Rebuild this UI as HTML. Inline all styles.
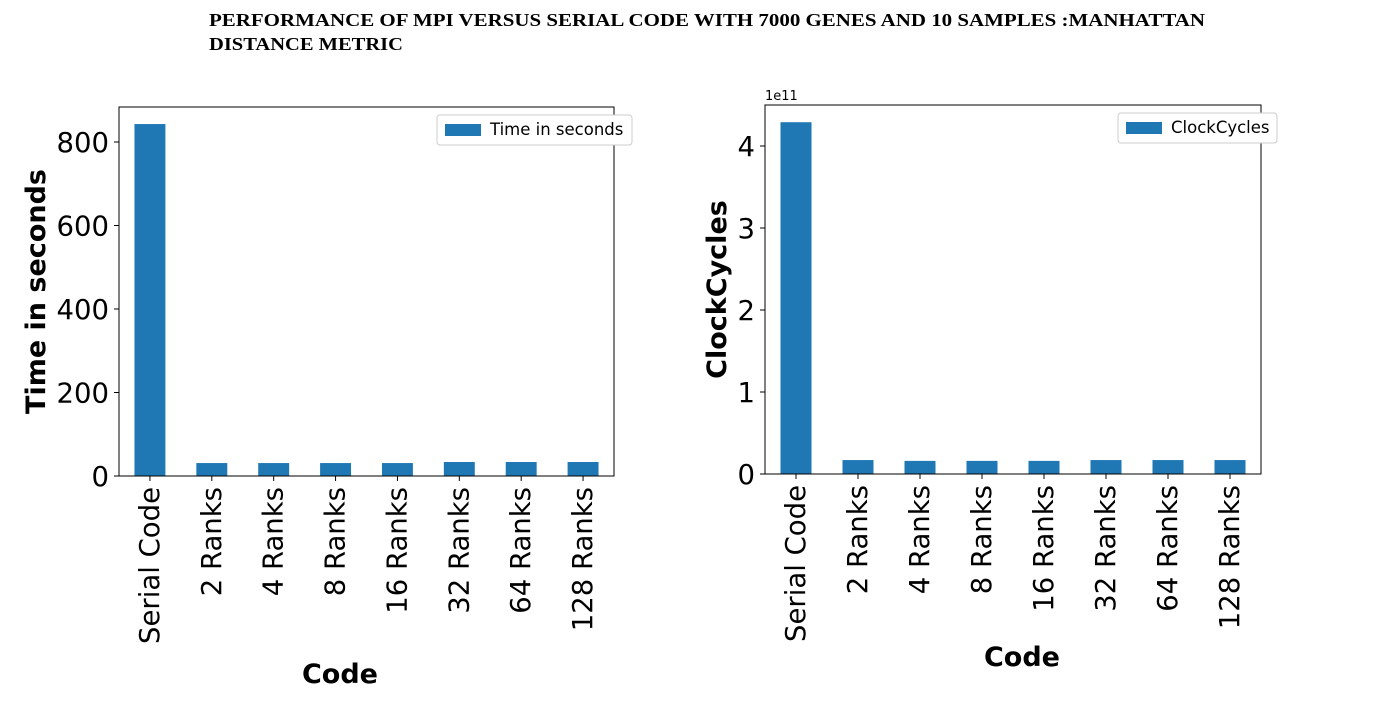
<!DOCTYPE html>
<html><head><meta charset="utf-8"><style>
body{margin:0;background:#fff;width:1378px;height:710px;overflow:hidden}
svg text{font-family:"DejaVu Sans","Liberation Sans",sans-serif}
</style></head><body>
<svg id="s" width="1378" height="710">
<text x="209" y="26" font-weight="bold" font-size="18" textLength="996" lengthAdjust="spacingAndGlyphs" style="font-family:'Liberation Serif',serif">PERFORMANCE OF MPI VERSUS SERIAL CODE WITH 7000 GENES AND 10 SAMPLES :MANHATTAN</text>
<text x="209" y="50" font-weight="bold" font-size="18" textLength="194" lengthAdjust="spacingAndGlyphs" style="font-family:'Liberation Serif',serif">DISTANCE METRIC</text>
</svg>
<script>
const categories=["Serial Code","2 Ranks","4 Ranks","8 Ranks","16 Ranks","32 Ranks","64 Ranks","128 Ranks"];
const timeValues=[843,31,31,31,31,33.5,33.5,33.5];
const clockValues=[4.29,0.17,0.16,0.16,0.16,0.17,0.17,0.17];
const timeTicks=[0,200,400,600,800];
const clockTicks=[0,1,2,3,4];
const svg=document.getElementById('s');
const NS='http://www.w3.org/2000/svg';
function mk(t,a,p){const e=document.createElementNS(NS,t);for(const k in a)e.setAttribute(k,a[k]);(p||svg).appendChild(e);return e;}
function panel(o){
  const g=mk('g',{});
  
  
  const w=o.x1-o.x0, step=w/categories.length;
  const xs=i=>o.x0+step*(i+0.5);
  const ys=v=>o.y1-v*o.ppu;
  o.vals.forEach((v,i)=>{
    const r=mk('rect',{x:xs(i)-step/4,y:ys(v),width:step/2,height:o.y1-ys(v),fill:'#1f77b4'},g);
    
    
    mk('line',{x1:xs(i),x2:xs(i),y1:o.y1,y2:o.y1+5,stroke:'#000','stroke-width':1},g);
    const t=mk('text',{x:0,y:0,'font-size':27.5,'text-anchor':'end',transform:`translate(${xs(i)+9},${o.y1+11}) rotate(-90)`},g);
    t.textContent=categories[i];
    
    
  });
  o.ticks.forEach(v=>{
    mk('line',{x1:o.x0-5,x2:o.x0,y1:ys(v),y2:ys(v),stroke:'#000'},g);
    const t=mk('text',{x:o.x0-10,y:ys(v)+10,'font-size':27.5,'text-anchor':'end'},g);
    t.textContent=v;
    
    
  });
  mk('rect',{x:o.x0,y:o.y0,width:w,height:o.y1-o.y0,fill:'none',stroke:'#000','stroke-width':1},g);
  const xl=mk('text',{x:o.xlX,y:o.xlY,'font-size':27,'font-weight':'bold','text-anchor':'middle'},g);
  xl.textContent='Code';
  
  
  const yl=mk('text',{x:0,y:0,'font-size':27,'font-weight':'bold','text-anchor':'middle',transform:`translate(${o.ylX},${(o.y0+o.y1)/2}) rotate(-90)`},g);
  yl.textContent=o.label;
  
  
  const lg=mk('g',{},g);
  
  
  mk('rect',{x:o.lx,y:o.y0+8,width:o.lw,height:30,rx:3,fill:'#fff',stroke:'#ccc'},lg);
  mk('rect',{x:o.lx+8,y:o.y0+17,width:36,height:12,fill:'#1f77b4'},lg);
  const lt=mk('text',{x:o.lx+53,y:o.y0+28,'font-size':16.5},lg);
  lt.textContent=o.label;
  if(o.exp){const e=mk('text',{x:o.x0,y:o.y0-5,'font-size':13},g);e.textContent=o.exp;
    }
}
panel({name:'time-chart',x0:119,x1:614,y0:107,y1:476,ppu:(476-142)/800,vals:timeValues,ticks:timeTicks,label:'Time in seconds',xlX:340,xlY:683,ylX:45,lx:437,lw:195});
panel({name:'clock-chart',x0:765,x1:1261,y0:105,y1:474,ppu:82,vals:clockValues,ticks:clockTicks,label:'ClockCycles',xlX:1022,xlY:666,ylX:726,lx:1118,lw:159,exp:'1e11'});
</script>
</body></html>
